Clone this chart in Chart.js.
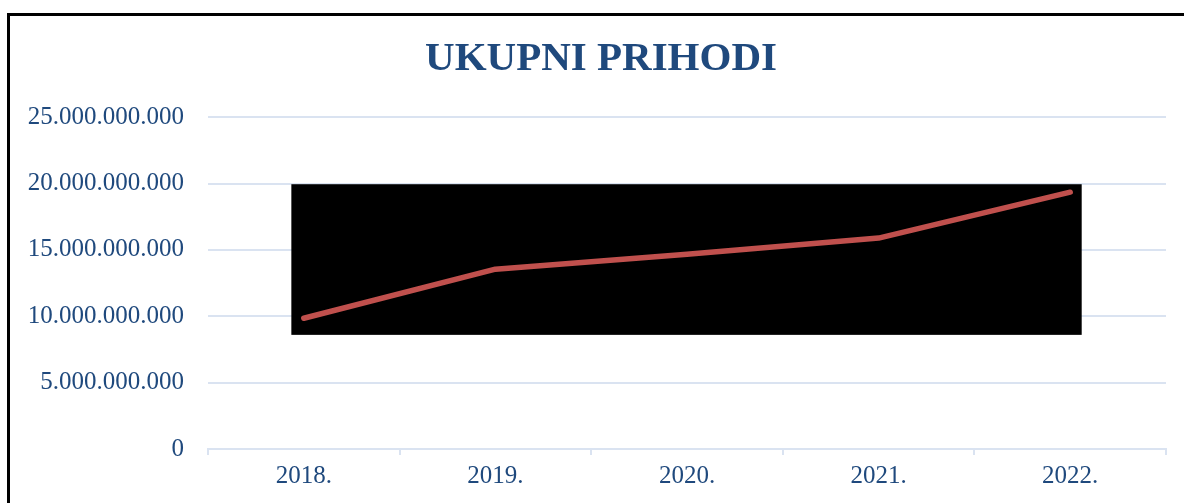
<!DOCTYPE html>
<html>
<head>
<meta charset="utf-8">
<script src="https://cdn.jsdelivr.net/npm/chart.js@4.4.1/dist/chart.umd.min.js"></script>
<style>
    html, body { margin: 0; padding: 0; background: #fff; overflow: hidden; }
    #frame {
        position: absolute; left: 7px; top: 13px; width: 2000px; height: 2000px;
        border-left: 3px solid #000; border-top: 3px solid #000;
    }
    #wrap { position: absolute; left: 0; top: 0; width: 1184px; height: 503px; }
</style>
</head>
<body>
<div id="frame"></div>
<div id="wrap"><canvas id="prihodiChart" width="1184" height="503"></canvas></div>
<script>
// Podaci
const years = ["2018.", "2019.", "2020.", "2021.", "2022."];
const prihodi = [9850000000, 13550000000, 14680000000, 15890000000, 19350000000];
const yTicks = [0, 5000000000, 10000000000, 15000000000, 20000000000, 25000000000];
// zacrnjeni dio (u jedinicama podataka)
const boxX = [-0.065, 4.06];
const boxY = [8600000000, 19950000000];

const TXT = "#1f497d";
const GRID = "#dae3f1";

// format 25000000000 -> 25.000.000.000
function fmt(v) {
    return String(v).replace(/\B(?=(\d{3})+(?!\d))/g, ".");
}

// crni pravokutnik iza linije
const boxPlugin = {
    id: "blackBox",
    afterLayout(chart) {
        // da se oznake y osi ne odrežu na lijevom paddingu
        chart.scales.y.left = 0;
    },
    beforeDatasetsDraw(chart) {
        const { ctx, scales: { x, y } } = chart;
        const x0 = x.getPixelForValue(boxX[0]);
        const x1 = x.getPixelForValue(boxX[1]);
        const y0 = y.getPixelForValue(boxY[1]);
        const y1 = y.getPixelForValue(boxY[0]);
        ctx.save();
        ctx.fillStyle = "#000";
        ctx.fillRect(x0, y0, x1 - x0, y1 - y0);
        ctx.restore();
    }
};

new Chart(document.getElementById("prihodiChart"), {
    type: "line",
    data: {
        labels: years,
        datasets: [{
            label: "Ukupni prihodi",
            data: prihodi,
            borderColor: "#c0504d",
            borderWidth: 5.5,
            borderCapStyle: "round",
            borderJoinStyle: "round",
            pointRadius: 0,
            tension: 0,
        }],
    },
    options: {
        responsive: false,
        animation: false,
        layout: { padding: { left: 36, right: 18, top: 0, bottom: 0 } },
        plugins: {
            legend: { display: false },
            tooltip: { enabled: false },
            title: {
                display: true,
                text: "UKUPNI PRIHODI",
                color: TXT,
                font: { family: "'Liberation Serif', serif", size: 41, weight: "bold", lineHeight: 1.2 },
                padding: { top: 35, bottom: 33 },
            },
        },
        scales: {
            x: {
                offset: true,
                grid: { offset: true, drawOnChartArea: false, color: GRID, lineWidth: 2, tickLength: 6 },
                border: { color: GRID, width: 2 },
                ticks: { color: TXT, padding: 6, font: { family: "'Liberation Serif', serif", size: 25 } },
                afterFit(s) { s.height = 54; },
            },
            y: {
                min: 0,
                max: 25000000000,
                afterBuildTicks(s) { s.ticks = yTicks.map(v => ({ value: v })); },
                grid: { color: GRID, lineWidth: 2, drawTicks: false },
                border: { display: false },
                ticks: {
                    color: TXT,
                    padding: 24,
                    font: { family: "'Liberation Serif', serif", size: 25 },
                    callback: v => fmt(v),
                },
                afterFit(s) { s.width = 172; },
            },
        },
    },
    plugins: [boxPlugin],
});
</script>
</body>
</html>
